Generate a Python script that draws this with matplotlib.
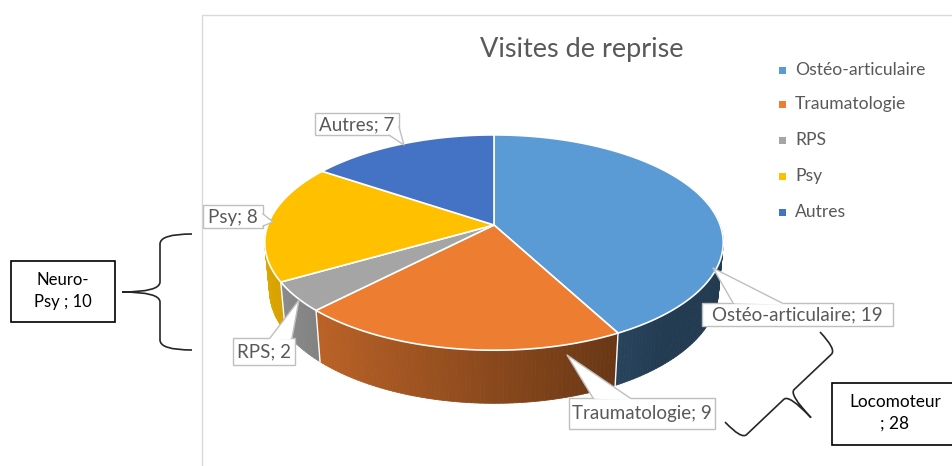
import numpy as np
import matplotlib
matplotlib.use("Agg")
import matplotlib.pyplot as plt
from matplotlib.patches import Polygon, Rectangle, PathPatch
from matplotlib.path import Path

# ---------------- data ----------------
categories = ["Ostéo-articulaire", "Traumatologie", "RPS", "Psy", "Autres"]
values = [19, 9, 2, 8, 7]
colors = ["#5B9BD5", "#ED7D31", "#A5A5A5", "#FFC000", "#4472C4"]
title = "Visites de reprise"
group_labels = ["Neuro-\nPsy ; 10", "Locomoteur\n; 28"]

FONT = ["Lato", "DejaVu Sans"]
GRAY = "#595959"

W, H = 953, 466
fig = plt.figure(figsize=(W / 100, H / 100), dpi=100)
ax = fig.add_axes([0, 0, 1, 1])
ax.set_xlim(0, W)
ax.set_ylim(H, 0)
ax.axis("off")

# chart area border
ax.plot([202, 202, W + 5], [H + 5, 15, 15], color="#D9D9D9", lw=1, zorder=1)

# ---------------- 3D pie projection ----------------
CX, CY = 494, 225
ELEV = np.radians(27.6)
DIST = 5.43
FOC = 1228
THICK = 0.24


def proj(theta, z):
    x = np.cos(theta)
    y = np.sin(theta)
    depth = DIST + y * np.cos(ELEV) - z * np.sin(ELEV)
    sx = FOC * x / depth
    sy = FOC * (y * np.sin(ELEV) + z * np.cos(ELEV)) / depth
    return CX + sx, CY - sy


def shade(hexcol, f):
    c = np.array(matplotlib.colors.to_rgb(hexcol))
    return tuple(np.clip(c * f, 0, 1))


total = sum(values)
cum = np.concatenate([[0], np.cumsum(values)])
bounds = np.radians(90 - 360 * cum / total)  # clockwise from 12 o'clock

# side quads
quads = []
for i, col in enumerate(colors):
    a0, a1 = bounds[i], bounds[i + 1]
    n = max(2, int(abs(np.degrees(a0 - a1))))
    ts = np.linspace(a0, a1, n + 1)
    for ta, tb in zip(ts[:-1], ts[1:]):
        tm = 0.5 * (ta + tb)
        if np.sin(tm) > 0.12:
            continue
        f = np.clip(0.58 - 0.30 * np.cos(tm), 0.38, 1.0)
        pts = [proj(ta, 0), proj(tb, 0), proj(tb, -THICK), proj(ta, -THICK)]
        quads.append((np.sin(tm), pts, shade(col, f)))
quads.sort(key=lambda q: -q[0])
for _, pts, fc in quads:
    ax.add_patch(Polygon(pts, closed=True, fc=fc, ec=fc, lw=0.6, zorder=2))

# white boundary lines on the side
for b in bounds:
    if np.sin(b) < -0.05:
        x0, y0 = proj(b, 0)
        x1, y1 = proj(b, -THICK)
        ax.plot([x0, x1], [y0, y1], color="white", lw=1.0, zorder=2.5)

# top faces
for i, col in enumerate(colors):
    ts = np.linspace(bounds[i], bounds[i + 1], 200)
    pts = [(CX, CY)] + [proj(t, 0) for t in ts]
    ax.add_patch(Polygon(pts, closed=True, fc=col, ec="white", lw=1.2,
                         joinstyle="round", zorder=3))

# ---------------- data callouts ----------------
boxes = [(702, 303, 893, 326), (569, 398, 715, 429), (233, 338, 295, 365),
         (203, 205, 263, 228), (315, 113, 399, 135)]
tips = [(713, 268), (567, 355), (299, 300), (273, 222), (404, 145)]
bases = [((733, 303), (782, 303)), ((593, 398), (630, 398)),
         ((270, 338), (292, 338)), ((263, 214), (263, 226)),
         ((389, 135), (399, 127))]

for cat, val, box, tip, base in zip(categories, values, boxes, tips, bases):
    x0, y0, x1, y1 = box
    ax.add_patch(Rectangle((x0, y0), x1 - x0, y1 - y0, fc="white",
                           ec="#BFBFBF", lw=1, zorder=5))
    c = np.array([(x0 + x1) / 2, (y0 + y1) / 2])
    b0, b1 = np.array(base[0], float), np.array(base[1], float)
    d0 = (c - b0) / np.linalg.norm(c - b0) * 2.5
    d1 = (c - b1) / np.linalg.norm(c - b1) * 2.5
    ax.add_patch(Polygon([b0, tip, b1, b1 + d1, b0 + d0], closed=True,
                         fc="white", ec="none", zorder=6))
    ax.plot([b0[0], tip[0], b1[0]], [b0[1], tip[1], b1[1]],
            color="#BFBFBF", lw=1, zorder=7)
    ax.text(c[0], c[1] + 0.5, f"{cat}; {val}", ha="center", va="center",
            fontsize=13.5, color=GRAY, family=FONT, zorder=8)

# ---------------- title ----------------
ax.text(582, 49, title, ha="center", va="center", fontsize=19.5,
        color=GRAY, family=FONT)

# ---------------- legend ----------------
leg_y = [70, 104, 140, 176, 212]
for cat, col, y in zip(categories, colors, leg_y):
    ax.add_patch(Rectangle((779, y - 3.5), 7, 7, fc=col, ec="none"))
    ax.text(795, y, cat, ha="left", va="center", fontsize=12.6,
            color=GRAY, family=FONT)


# ---------------- braces + group boxes ----------------
def brace(p0, p1, a, b, r, toward):
    p0 = np.array(p0, float)
    p1 = np.array(p1, float)
    L = np.linalg.norm(p1 - p0)
    u = (p1 - p0) / L
    n = np.array([-u[1], u[0]])
    if np.dot(n, np.array(toward) - p0) < 0:
        n = -n

    def P(s, t):
        return tuple(p0 + s * u + t * n)

    verts = [P(0, 0), P(0, a), P(r, a), P(L / 2 - r, a),
             P(L / 2, a), P(L / 2, a + b), P(L / 2, a), P(L / 2 + r, a),
             P(L - r, a), P(L, a), P(L, 0)]
    codes = [Path.MOVETO, Path.CURVE3, Path.CURVE3, Path.LINETO,
             Path.CURVE3, Path.CURVE3, Path.CURVE3, Path.CURVE3,
             Path.LINETO, Path.CURVE3, Path.CURVE3]
    ax.add_patch(PathPatch(Path(verts, codes), fc="none", ec="#262626",
                           lw=1.2, zorder=4))


brace((192, 234), (192, 350), 32, 38, 10, (100, 292))
brace((820, 332), (725, 422), 24, 32, 7, (830, 430))

ax.add_patch(Rectangle((11, 261), 104, 61, fc="white", ec="black", lw=1.2, zorder=4))
ax.text(63, 291, group_labels[0], ha="center", va="center", fontsize=12,
        color="black", family=FONT, linespacing=1.4, zorder=5)

ax.add_patch(Rectangle((832, 383), 126, 62, fc="white", ec="black", lw=1.2, zorder=4))
ax.text(895, 413, group_labels[1], ha="center", va="center", fontsize=12.4,
        color="black", family=FONT, linespacing=1.4, zorder=5)

fig.savefig("out.png", dpi=100)
